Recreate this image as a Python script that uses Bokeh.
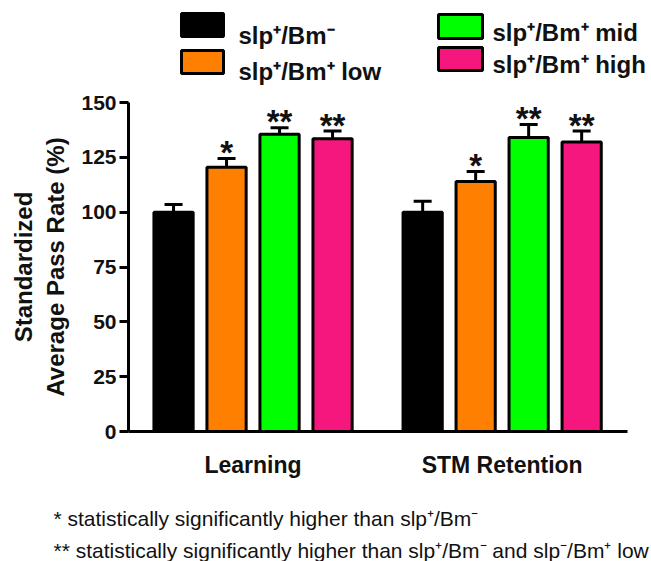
from bokeh.plotting import figure
from bokeh.layouts import column
from bokeh.models import ColumnDataSource, Range1d, FixedTicker, Whisker, TeeHead
from bokeh.core.properties import value
from bokeh.embed import file_html
from bokeh.resources import INLINE

# ---------------- data ----------------
groups = ["Learning", "STM Retention"]
series = ["slp\u207a/Bm\u207b", "slp\u207a/Bm\u207a low", "slp\u207a/Bm\u207a mid", "slp\u207a/Bm\u207a high"]
colors = ["#000000", "#FF8000", "#00FF00", "#F5177D"]
learning_mean = [100, 120.5, 135.5, 133.5]
learning_sem = [3.5, 4, 3, 3.5]
stm_mean = [100, 114, 134, 132]
stm_sem = [5, 4.5, 6, 5]
learning_sig = ["", "*", "**", "**"]
stm_sig = ["", "*", "**", "**"]
y_ticks = [0, 25, 50, 75, 100, 125, 150]
footnotes = ["*  statistically significantly higher than slp\u207a/Bm\u207b",
             "** statistically significantly higher than slp\u207a/Bm\u207b and slp\u207b/Bm\u207a low"]

FONT = "Liberation Sans"
TXT = "#111111"
W = 651
H = 561
GROUP_STEP = 4.7

# ---------------- legend strip (pixel coordinates) ----------------
LEG_TOP, LEG_BOT = 0, 88
leg = figure(width=W, height=LEG_BOT - LEG_TOP, output_backend="svg", toolbar_location=None,
             x_range=Range1d(0, W), y_range=Range1d(LEG_BOT, LEG_TOP),
             x_axis_type=None, y_axis_type=None, min_border=0)
leg.frame_align = False
leg.outline_line_color = None
leg.grid.visible = False
# layout: (swatch left, right, top, bottom, text x, text baseline)
leg_layout = [(181, 223, 13, 36, 238, 35), (181, 223, 50, 73, 238, 71),
              (438, 482, 14, 38, 492, 32), (438, 482, 47, 70, 492, 64)]
leg_src = ColumnDataSource(dict(
    left=[l[0] for l in leg_layout], right=[l[1] for l in leg_layout],
    top=[l[2] for l in leg_layout], bottom=[l[3] for l in leg_layout],
    tx=[l[4] for l in leg_layout], ty=[l[5] for l in leg_layout],
    color=colors, name=series))
leg.quad(left="left", right="right", top="top", bottom="bottom", source=leg_src,
         fill_color="color", line_color="black", line_width=3)
leg.text(x="tx", y="ty", text="name", source=leg_src, text_font=value(FONT),
         text_font_style="bold", text_font_size="24px", text_baseline="alphabetic",
         text_color=TXT)

# ---------------- main chart ----------------
means = [learning_mean, stm_mean]
sems = [learning_sem, stm_sem]
sigs = [learning_sig, stm_sig]

xs, tops, uppers, cols, stars = [], [], [], [], []
for gi in range(len(groups)):
    for si in range(len(series)):
        xs.append(gi * GROUP_STEP + si)
        tops.append(means[gi][si])
        uppers.append(means[gi][si] + sems[gi][si])
        cols.append(colors[si])
        stars.append(sigs[gi][si])
src = ColumnDataSource(dict(x=xs, top=tops, upper=uppers, color=cols, star=stars))
group_centers = [gi * GROUP_STEP + (len(series) - 1) / 2 for gi in range(len(groups))]

MAIN_TOP, MAIN_BOT = LEG_BOT, 480
p = figure(width=W, height=MAIN_BOT - MAIN_TOP, output_backend="svg", toolbar_location=None,
           x_range=Range1d(-0.85, 8.565), y_range=Range1d(0, 150),
           min_border_left=128, min_border_right=W - 627, min_border_top=102 - MAIN_TOP,
           min_border_bottom=MAIN_BOT - 433)
p.frame_align = False
p.outline_line_color = None
p.grid.visible = False

p.vbar(x="x", top="top", width=0.74, bottom=0, source=src, fill_color="color",
       line_color="black", line_width=3)
w = Whisker(base="x", upper="upper", lower="top", source=src, dimension="height",
            line_color="black", line_width=3,
            upper_head=TeeHead(size=18, line_width=3, line_color="black"), lower_head=None)
p.add_layout(w)
p.text(x="x", y="upper", text="star", source=src, text_align="center",
       text_baseline="alphabetic", y_offset=-6, text_font=value(FONT),
       text_font_size="33px", text_font_style="bold", text_color=TXT)

ya = p.yaxis[0]
ya.ticker = FixedTicker(ticks=y_ticks)
ya.minor_tick_line_color = None
ya.axis_line_width = 3
ya.major_tick_line_width = 3
ya.major_tick_in = 0
ya.major_tick_out = 9
ya.major_label_standoff = 3
ya.major_label_text_font = FONT
ya.major_label_text_font_style = "bold"
ya.major_label_text_font_size = "21px"
ya.major_label_text_color = TXT
ya.axis_label = "Standardized\nAverage Pass Rate (%)"
ya.axis_label_text_font = FONT
ya.axis_label_text_font_style = "bold"
ya.axis_label_text_font_size = "24px"
ya.axis_label_text_color = TXT
ya.axis_label_standoff = 9

xa = p.xaxis[0]
xa.ticker = FixedTicker(ticks=group_centers)
xa.major_label_overrides = {c: g for c, g in zip(group_centers, groups)}
xa.minor_tick_line_color = None
xa.major_tick_line_color = None
xa.axis_line_width = 3
xa.major_label_standoff = 14
xa.major_label_text_font = FONT
xa.major_label_text_font_style = "bold"
xa.major_label_text_font_size = "23px"
xa.major_label_text_color = TXT

# ---------------- footnotes (pixel coordinates) ----------------
FN_TOP, FN_BOT = MAIN_BOT, H
fn = figure(width=W, height=FN_BOT - FN_TOP, output_backend="svg", toolbar_location=None,
            x_range=Range1d(0, W), y_range=Range1d(FN_BOT, FN_TOP),
            x_axis_type=None, y_axis_type=None, min_border=0)
fn.frame_align = False
fn.outline_line_color = None
fn.grid.visible = False
fn_src = ColumnDataSource(dict(x=[53, 53], y=[518, 550], text=footnotes))
fn.text(x="x", y="y", text="text", source=fn_src, text_font=value(FONT),
        text_font_size="21px", text_baseline="alphabetic", text_color=TXT)

layout = column(leg, p, fn, spacing=0)
open("out.html", "w").write(file_html(layout, INLINE))
